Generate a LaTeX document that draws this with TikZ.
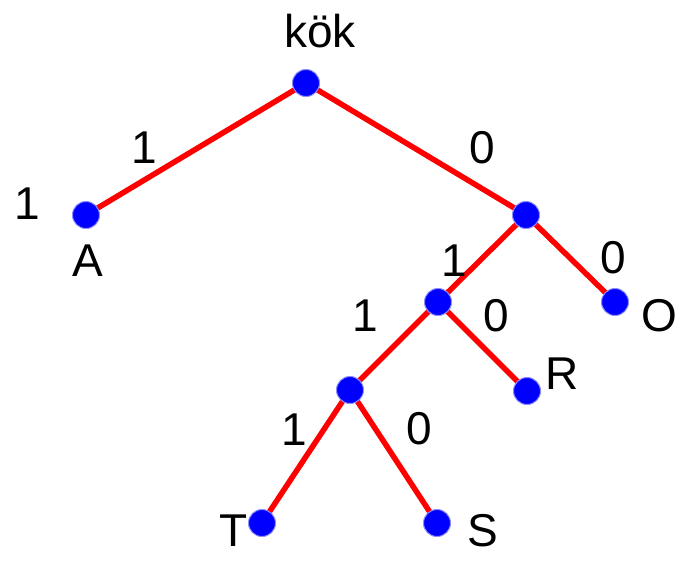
\documentclass[tikz,border=0pt]{standalone}
\usepackage{fontspec}
\setmainfont{Liberation Sans}
\definecolor{edgered}{RGB}{255,0,0}
\definecolor{dotblue}{RGB}{0,0,255}
\tikzset{
  edge/.style={draw=edgered, line width=5.5pt},
  dot/.style={circle, fill=dotblue, draw=dotblue!45, line width=1pt, minimum size=27pt, inner sep=0pt},
  lbl/.style={anchor=base, inner sep=0pt, font=\fontsize{46}{50}\selectfont}
}
\begin{document}
\begin{tikzpicture}[x=1pt,y=-1pt]
\useasboundingbox (0,0) rectangle (677,560);
% positions of tree nodes
\coordinate (r) at (306,83);
\coordinate (a) at (86,215);
\coordinate (n1) at (526,215);
\coordinate (o) at (615,302);
\coordinate (n2) at (438,302);
\coordinate (rr) at (527,391);
\coordinate (n3) at (350,390);
\coordinate (t) at (262,523);
\coordinate (s) at (437,523);
% edges
\draw[edge] (r) -- (a);
\draw[edge] (r) -- (n1);
\draw[edge] (n1) -- (o);
\draw[edge] (n1) -- (n2);
\draw[edge] (n2) -- (rr);
\draw[edge] (n2) -- (n3);
\draw[edge] (n3) -- (t);
\draw[edge] (n3) -- (s);
% dots
\node[dot] (dr) at (r) {};
\node[dot] (da) at (a) {};
\node[dot] (dn1) at (n1) {};
\node[dot] (do) at (o) {};
\node[dot] (dn2) at (n2) {};
\node[dot] (drr) at (rr) {};
\node[dot] (dn3) at (n3) {};
\node[dot] (dt) at (t) {};
\node[dot] (ds) at (s) {};
% labels
\node[lbl] (lkok) at (320,47) {kök};
\node[lbl] (lA1) at (27,219) {1};
\node[lbl] (lA) at (88,276) {A};
\node[lbl] (e1) at (144,163) {1};
\node[lbl] (e2) at (482,163) {0};
\node[lbl] (e3) at (454,276) {1};
\node[lbl] (e4) at (613,273) {0};
\node[lbl] (lO) at (659,331) {O};
\node[lbl] (e5) at (365,331) {1};
\node[lbl] (e6) at (496,331) {0};
\node[lbl] (lR) at (562,389) {R};
\node[lbl] (e7) at (294,445) {1};
\node[lbl] (e8) at (419,444) {0};
\node[lbl] (lT) at (234,546) {T};
\node[lbl] (lS) at (483,546) {S};
\end{tikzpicture}
\end{document}
